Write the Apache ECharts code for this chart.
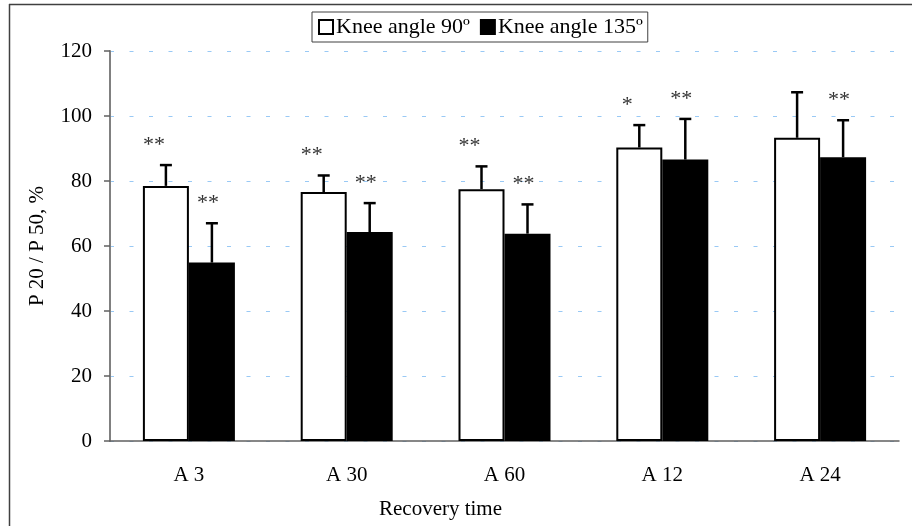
<!DOCTYPE html>
<html>
<head>
<meta charset="utf-8">
<script src="https://cdn.jsdelivr.net/npm/echarts@6/dist/echarts.min.js"></script>
<style>html,body{margin:0;padding:0;background:#fff}#c{width:912px;height:526px}</style>
</head>
<body>
<div id="c"></div>
<script>
var categories = ['A 3', 'A 30', 'A 60', 'A 12', 'A 24'];
var seriesNames = ['Knee angle 90º', 'Knee angle 135º'];
var knee90 = [78.5, 76.6, 77.5, 90.3, 93.3];
var knee90SD = [6.4, 5.1, 7.0, 6.9, 14.0];
var knee90Sig = ['**', '**', '**', '*', ''];
var knee135 = [54.9, 64.3, 63.8, 86.6, 87.3];
var knee135SD = [12.1, 8.9, 9.0, 12.5, 11.4];
var knee135Sig = ['**', '**', '**', '**', '**'];
var yTicks = [0, 20, 40, 60, 80, 100, 120];

var FONT = 'Liberation Serif';
var BAR_W = 46;

function errData(means, sds, sig) {
  return means.map(function (m, i) { return [i, m, m + sds[i], sig[i]]; });
}

function makeErr(offsetSign, labelShift) {
  return function (params, api) {
    var idx = api.value(0);
    var base = api.coord([idx, api.value(1)]);
    var top = api.coord([idx, api.value(2)]);
    var x = base[0] + offsetSign * BAR_W / 2;
    var lbl = api.value(3);
    var children = [
      { type: 'line', shape: { x1: x, y1: base[1], x2: x, y2: top[1] }, style: { stroke: '#000', lineWidth: 2.5 } },
      { type: 'line', shape: { x1: x - 6, y1: top[1], x2: x + 6, y2: top[1] }, style: { stroke: '#000', lineWidth: 2.5 } }
    ];
    if (lbl) {
      children.push({ type: 'text', x: x + labelShift, y: top[1] - 20,
        style: { text: lbl, font: '22px "' + FONT + '"', fill: '#333', align: 'center', verticalAlign: 'middle' } });
    }
    return { type: 'group', children: children };
  };
}

var chart = echarts.init(document.getElementById('c'), null, { renderer: 'canvas' });
chart.setOption({
  animation: false,
  backgroundColor: '#fff',
  textStyle: { fontFamily: FONT },
  graphic: [
    { type: 'line', shape: { x1: 9, y1: 4.5, x2: 912, y2: 4.5 }, style: { stroke: '#404040', lineWidth: 1.5 }, z: 100 },
    { type: 'line', shape: { x1: 9.5, y1: 4, x2: 9.5, y2: 526 }, style: { stroke: '#404040', lineWidth: 1.5 }, z: 100 }
  ],
  legend: {
    left: 312, top: 12,
    data: [
      { name: seriesNames[0], itemStyle: { color: '#fff', borderColor: '#000', borderWidth: 2 } },
      { name: seriesNames[1], itemStyle: { color: '#000', borderColor: '#000', borderWidth: 2 } }
    ],
    icon: 'rect',
    itemWidth: 14, itemHeight: 14, itemGap: 10,
    borderColor: '#404040', borderWidth: 1, padding: [4, 5, 4, 6],
    textStyle: { fontFamily: FONT, fontSize: 22, color: '#000', padding: [0, 0, 0, -2] }
  },
  grid: { left: 110, right: 13, top: 51, bottom: 85 },
  xAxis: {
    type: 'category', data: categories,
    name: 'Recovery time', nameLocation: 'middle', nameGap: 58,
    nameTextStyle: { fontFamily: FONT, fontSize: 21, color: '#000', padding: [0, 128, 0, 0] },
    axisLine: { lineStyle: { color: '#606060', width: 1.5 } },
    axisTick: { length: 7, lineStyle: { color: '#606060', width: 1.5 } },
    axisLabel: { margin: 24, fontFamily: FONT, fontSize: 21, color: '#000' }
  },
  yAxis: {
    type: 'value', min: yTicks[0], max: yTicks[yTicks.length - 1], interval: 20,
    name: 'P 20 / P 50, %', nameLocation: 'middle', nameGap: 62,
    nameTextStyle: { fontFamily: FONT, fontSize: 21, color: '#000' },
    axisLine: { show: true, lineStyle: { color: '#808080', width: 2 } },
    axisTick: { show: true, length: 6, lineStyle: { color: '#606060', width: 1.5 } },
    axisLabel: { margin: 18, fontFamily: FONT, fontSize: 21, color: '#000' },
    splitLine: { show: true, lineStyle: { color: '#99c9f5', width: 1, type: [4, 15.5] } }
  },
  series: [
    { name: seriesNames[0], type: 'bar', data: knee90, barWidth: BAR_W, barGap: '0%',
      itemStyle: { color: '#fff', borderColor: '#000', borderWidth: 2 } },
    { name: seriesNames[1], type: 'bar', data: knee135, barWidth: BAR_W, barGap: '0%',
      itemStyle: { color: '#000', borderColor: '#000', borderWidth: 2 } },
    { type: 'custom', data: errData(knee90, knee90SD, knee90Sig), renderItem: makeErr(-1, -12), z: 10,
      encode: { x: 0, y: [1, 2] } },
    { type: 'custom', data: errData(knee135, knee135SD, knee135Sig), renderItem: makeErr(1, -4), z: 10,
      encode: { x: 0, y: [1, 2] } }
  ]
});
</script>
</body>
</html>
